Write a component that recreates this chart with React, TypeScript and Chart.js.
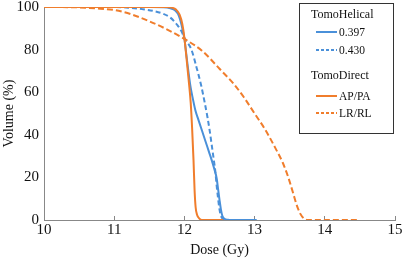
import { useEffect, useRef } from "react";
import { Chart, registerables } from "chart.js";

Chart.register(...registerables);

// Axis ticks
const doseTicks = [10, 11, 12, 13, 14, 15];
const volumeTicks = [0, 20, 40, 60, 80, 100];

// Legend groups and series names
const groupTitles = ["TomoHelical", "TomoDirect"];
const seriesLabels = ["0.397", "0.430", "AP/PA", "LR/RL"];

// TomoHelical, pitch 0.397
const helical397Dose = [10, 11.5, 11.7, 11.8, 11.87, 11.92, 11.96, 12.0, 12.03, 12.06, 12.09, 12.12, 12.16, 12.2, 12.25, 12.3, 12.35, 12.39, 12.43, 12.46, 12.48, 12.5, 12.52, 12.54, 12.57, 12.62, 12.67, 13.03];
const helical397Volume = [100, 100, 99.9, 99.4, 98.3, 96, 91.5, 85, 77, 69, 62, 57, 51, 47, 42, 37, 32, 28, 23.5, 19.5, 14.5, 9.5, 5, 2, 0.6, 0.1, 0, 0];

// TomoHelical, pitch 0.430
const helical430Dose = [10, 11.0, 11.2, 11.4, 11.55, 11.7, 11.8, 11.9, 11.96, 12.0, 12.05, 12.1, 12.17, 12.24, 12.29, 12.33, 12.36, 12.39, 12.42, 12.44, 12.46, 12.48, 12.5, 12.52, 12.55, 12.58];
const helical430Volume = [100, 100, 99.7, 99, 98.2, 96.8, 95, 91.5, 88.5, 85.5, 83, 80, 72, 63, 55, 48, 42, 35, 28, 23, 16, 10, 5, 2, 0.4, 0];

// TomoDirect, AP/PA
const directApDose = [10, 11.75, 11.82, 11.88, 11.93, 11.97, 12.0, 12.03, 12.06, 12.09, 12.11, 12.13, 12.145, 12.16, 12.18, 12.21, 12.25, 12.55];
const directApVolume = [100, 100, 99.7, 98.8, 96.5, 92, 85.5, 76, 66, 55, 43, 28, 14, 6, 2.5, 0.8, 0, 0];

// TomoDirect, LR/RL
const directLrDose = [10, 10.5, 10.8, 11.0, 11.25, 11.5, 11.75, 12.0, 12.25, 12.5, 12.7, 12.85, 13.0, 13.15, 13.3, 13.4, 13.48, 13.55, 13.6, 13.65, 13.7, 13.75, 14.46];
const directLrVolume = [100, 99.8, 99.2, 98.6, 96.5, 93.3, 89.5, 85, 79.5, 71, 64, 57.5, 50, 42.5, 33.5, 27, 20, 12.5, 7, 3, 0.8, 0, 0];

const BLUE = "#4a90d9";
const ORANGE = "#f07d2c";
const SERIF = "'Liberation Serif', 'Times New Roman', serif";

const toPoints = (xs: number[], ys: number[]) => xs.map((x, i) => ({ x, y: ys[i] }));

const seriesStyles = [
  { color: BLUE, dash: [] as number[], legendDash: [] as number[] },
  { color: BLUE, dash: [5, 3], legendDash: [3, 2] },
  { color: ORANGE, dash: [] as number[], legendDash: [] as number[] },
  { color: ORANGE, dash: [6, 3], legendDash: [3, 2] },
];

// Boxed, grouped legend drawn on top of the plot
const groupedLegend = {
  id: "groupedLegend",
  afterDraw(chart: Chart) {
    const ctx = chart.ctx;
    ctx.save();
    ctx.strokeStyle = "#333";
    ctx.lineWidth = 1;
    ctx.strokeRect(299.5, 3.5, 94, 130);

    ctx.fillStyle = "#111";
    ctx.textBaseline = "middle";
    ctx.textAlign = "left";

    const titleY = [15, 76];
    const itemY = [32, 50, 96, 113];
    ctx.font = `12px ${SERIF}`;
    groupTitles.forEach((t, i) => ctx.fillText(t, 311, titleY[i]));
    ctx.font = `11.5px ${SERIF}`;
    seriesLabels.forEach((label, i) => {
      const st = seriesStyles[i];
      ctx.beginPath();
      ctx.setLineDash(st.legendDash);
      ctx.strokeStyle = st.color;
      ctx.lineWidth = 2;
      ctx.moveTo(316, itemY[i]);
      ctx.lineTo(337, itemY[i]);
      ctx.stroke();
      ctx.setLineDash([]);
      ctx.fillStyle = "#111";
      ctx.fillText(label, 339, itemY[i] + 0.5);
    });
    ctx.restore();
  },
};

export default function App() {
  const canvasRef = useRef<HTMLCanvasElement | null>(null);

  useEffect(() => {
    const canvas = canvasRef.current;
    if (!canvas) return;

    const series = [
      toPoints(directLrDose, directLrVolume),
      toPoints(directApDose, directApVolume),
      toPoints(helical430Dose, helical430Volume),
      toPoints(helical397Dose, helical397Volume),
    ];
    const styleOrder = [3, 2, 1, 0];

    const chart = new Chart(canvas, {
      type: "line",
      data: {
        datasets: series.map((data, i) => {
          const st = seriesStyles[styleOrder[i]];
          return {
            label: seriesLabels[styleOrder[i]],
            data,
            borderColor: st.color,
            backgroundColor: st.color,
            borderWidth: 2,
            borderDash: st.dash,
            pointRadius: 0,
            fill: false,
            cubicInterpolationMode: "monotone" as const,
          };
        }),
      },
      options: {
        animation: false,
        responsive: false,
        maintainAspectRatio: false,
        layout: { padding: { top: 7, right: 7, left: 0, bottom: 0 } },
        plugins: {
          legend: { display: false },
          tooltip: { enabled: false },
        },
        scales: {
          x: {
            type: "linear",
            position: "bottom",
            min: 10,
            max: 15,
            afterBuildTicks: (s: any) => {
              s.ticks = doseTicks.map((value) => ({ value }));
            },
            afterFit: (s: any) => {
              s.height = 42;
              s.paddingLeft = 0;
              s.paddingRight = 0;
            },
            ticks: {
              color: "#111",
              font: { family: SERIF, size: 15 },
              padding: 5,
              maxRotation: 0,
              autoSkip: false,
            },
            grid: { drawOnChartArea: false, drawTicks: true, tickLength: -4, color: "#888" },
            border: { color: "#888", width: 1 },
            title: {
              display: true,
              text: "Dose (Gy)",
              color: "#111",
              font: { family: SERIF, size: 14 },
              padding: { top: 0, bottom: 3 },
            },
          },
          y: {
            type: "linear",
            min: 0,
            max: 100,
            afterBuildTicks: (s: any) => {
              s.ticks = volumeTicks.map((value) => ({ value }));
            },
            afterFit: (s: any) => {
              s.width = 44;
              s.paddingTop = 0;
              s.paddingBottom = 0;
            },
            ticks: {
              color: "#111",
              font: { family: SERIF, size: 15 },
              padding: 5,
              autoSkip: false,
            },
            grid: { drawOnChartArea: false, drawTicks: false },
            border: { color: "#888", width: 1 },
            title: {
              display: true,
              text: "Volume (%)",
              color: "#111",
              font: { family: SERIF, size: 14 },
              padding: { top: 1, bottom: 0 },
            },
          },
        },
      },
      plugins: [groupedLegend],
    });

    return () => chart.destroy();
  }, []);

  return (
    <div style={{ position: "fixed", left: 0, top: 0, width: 402, height: 262, background: "#fff" }}>
      <canvas ref={canvasRef} width={402} height={262} style={{ width: 402, height: 262, display: "block" }} />
    </div>
  );
}
